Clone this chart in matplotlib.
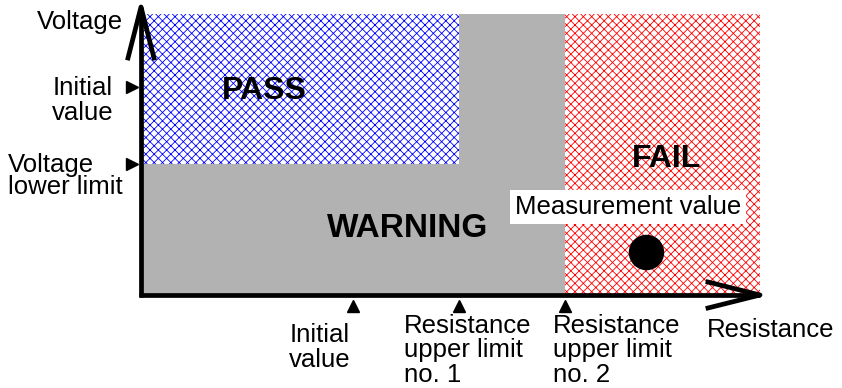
import matplotlib
matplotlib.use("Agg")
import matplotlib.pyplot as plt
from matplotlib.patches import Rectangle

plt.rcParams["font.family"] = ["Liberation Sans", "DejaVu Sans"]
plt.rcParams["hatch.linewidth"] = 0.6

# diagram coordinates (pixel-like, y grows downward)
origin = (141, 295)
axis_top = 7
axis_right = 760
region_top = 14

# resistance marks along the horizontal axis
res_ticks = [353, 459, 565]
res_labels = ["Initial\nvalue", "Resistance\nupper limit\nno. 1", "Resistance\nupper limit\nno. 2"]

# voltage marks along the vertical axis
volt_ticks = [87, 164]
volt_labels = ["Initial\nvalue", "Voltage\nlower limit"]

measurement = (646, 252)

W, H = 842, 388
fig = plt.figure(figsize=(W / 100, H / 100), dpi=100, facecolor="white")
ax = fig.add_axes([0, 0, 1, 1])
ax.set_xlim(0, W)
ax.set_ylim(H, 0)
ax.axis("off")


def label(x, y, text, step, ha="left", fs=18.5, **kw):
    # one text per line, baselines `step` px apart, first baseline at y
    for i, line in enumerate(text.split("\n")):
        ax.text(x, y + i * step, line, ha=ha, va="baseline", fontsize=fs, **kw)


x0, y0 = origin
lim1, lim2 = res_ticks[1], res_ticks[2]
v_low = volt_ticks[1]

# WARNING (gray) area
ax.add_patch(Rectangle((x0, region_top), lim2 - x0, y0 - region_top,
                       facecolor="#b2b2b2", edgecolor="none", zorder=1))
# PASS area
ax.add_patch(Rectangle((x0, region_top), lim1 - x0, v_low - region_top,
                       facecolor="white", edgecolor="#0000ff", hatch="xxxx",
                       linewidth=0, zorder=2))
# FAIL area
ax.add_patch(Rectangle((lim2, region_top), axis_right - lim2, y0 - region_top,
                       facecolor="white", edgecolor="#ff0000", hatch="xxxx",
                       linewidth=0, zorder=2))

# axes with open arrow heads
lw = 3.4
ax.plot([x0, x0], [y0 + 2, axis_top], color="black", lw=lw, solid_capstyle="butt", zorder=5)
ax.plot([x0 - 13, x0, x0 + 13], [58, axis_top, 58], color="black", lw=lw, zorder=5)
ax.plot([x0 - 2, axis_right], [y0, y0], color="black", lw=lw, solid_capstyle="butt", zorder=5)
ax.plot([708, axis_right, 708], [y0 - 13, y0, y0 + 13], color="black", lw=lw, zorder=5)

# tick triangles
ax.plot([132] * len(volt_ticks), volt_ticks, ">", color="black", ms=8, zorder=5)
ax.plot(res_ticks, [306] * len(res_ticks), "^", color="black", ms=8, zorder=5)

# axis labels
label(123, 29, "Voltage", 0, ha="right")
label(83, 95, volt_labels[0], 25, ha="center")
label(8, 172, volt_labels[1], 22)

label(320, 342, res_labels[0], 25, ha="center")
label(404, 333, res_labels[1], 24.5)
label(553, 333, res_labels[2], 24.5)
label(707, 337, "Resistance", 0)

# zone names
ax.text(264, 99, "PASS", ha="center", va="baseline", fontsize=23, fontweight="bold", zorder=4)
ax.text(667, 167, "FAIL", ha="center", va="baseline", fontsize=23, fontweight="bold", zorder=4)
ax.text(408, 237, "WARNING", ha="center", va="baseline", fontsize=24, fontweight="bold", zorder=4)

ax.text(628, 214, "Measurement value", ha="center", va="baseline", fontsize=18.5, zorder=4,
        bbox=dict(boxstyle="square,pad=0.2", facecolor="white", edgecolor="none"))
ax.plot(*measurement, "o", color="black", ms=24.5, zorder=4)

fig.savefig("out.png", dpi=100, facecolor="white")
